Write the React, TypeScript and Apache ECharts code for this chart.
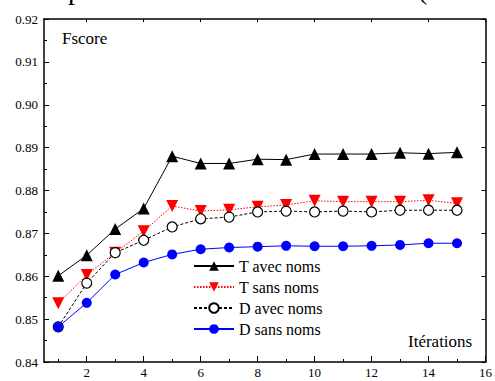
import React, { useEffect, useRef } from "react";
import * as echarts from "echarts";

const iterations = [1, 2, 3, 4, 5, 6, 7, 8, 9, 10, 11, 12, 13, 14, 15];
const tAvecNoms = [0.8601, 0.8649, 0.871, 0.8758, 0.888, 0.8863, 0.8863, 0.8873, 0.8872, 0.8885, 0.8885, 0.8885, 0.8888, 0.8886, 0.8889];
const tSansNoms = [0.8537, 0.8603, 0.8655, 0.8705, 0.8764, 0.8752, 0.8755, 0.8762, 0.8766, 0.8776, 0.8774, 0.8774, 0.8774, 0.8777, 0.877];
const dAvecNoms = [0.8482, 0.8584, 0.8655, 0.8684, 0.8715, 0.8734, 0.8738, 0.875, 0.8752, 0.875, 0.8752, 0.875, 0.8754, 0.8754, 0.8754];
const dSansNoms = [0.8482, 0.8538, 0.8604, 0.8632, 0.8651, 0.8663, 0.8667, 0.8669, 0.8671, 0.867, 0.867, 0.8671, 0.8673, 0.8677, 0.8677];
const xLabelValues = [2, 4, 6, 8, 10, 12, 14, 16];
const xMinorTicks = [1, 3, 5, 7, 9, 11, 13, 15];
const seriesNames = ["T avec noms", "T sans noms", "D avec noms", "D sans noms"];

const FONT = "Liberation Serif";

export default function App() {
  const ref = useRef<HTMLDivElement>(null);
  useEffect(() => {
    if (!ref.current) return;
    const chart = echarts.init(ref.current, null, { renderer: "svg" });
    const pair = (arr: number[]) => iterations.map((x, i) => [x, arr[i]]);
    const baseX = {
      type: "value" as const,
      min: 0.5,
      max: 16,
      gridIndex: 0,
      splitLine: { show: false },
    };
    chart.setOption({
      animation: false,
      backgroundColor: "#ffffff",
      textStyle: { fontFamily: FONT },
      grid: { left: 44, right: 6, top: 19, bottom: 19, containLabel: false },
      graphic: [
        { type: "text", left: 62, top: 30, style: { text: "Fscore", fontFamily: FONT, fontSize: 17, fill: "#000" } },
        { type: "text", left: 408, top: 333, style: { text: "Itérations", fontFamily: FONT, fontSize: 17, fill: "#000" } },
        { type: "text", x: 68, y: -25, style: { text: "p", fontFamily: FONT, fontSize: 28, fill: "#000" } },
        { type: "text", x: 418, y: -25, style: { text: "(", fontFamily: FONT, fontSize: 28, fill: "#000" } },
      ],
      legend: {
        orient: "vertical",
        left: 193,
        top: 258,
        padding: 0,
        itemWidth: 40,
        itemHeight: 12,
        itemGap: 5,
        data: seriesNames,
        textStyle: { fontFamily: FONT, fontSize: 16, color: "#000" },
      },
      xAxis: [
        {
          ...baseX,
          position: "bottom",
          axisLine: { show: true, onZero: false, lineStyle: { color: "#000", width: 1.5 } },
          axisTick: { show: true, inside: true, length: 6, customValues: xLabelValues, lineStyle: { color: "#000" } },
          axisLabel: { show: true, customValues: xLabelValues, fontFamily: FONT, fontSize: 13, color: "#000", margin: 4 },
        },
        {
          ...baseX,
          position: "bottom",
          axisLine: { show: false, onZero: false },
          axisTick: { show: true, inside: true, length: 3, customValues: xMinorTicks, lineStyle: { color: "#000" } },
          axisLabel: { show: false },
        },
        {
          ...baseX,
          position: "top",
          axisLine: { show: true, onZero: false, lineStyle: { color: "#000", width: 1.5 } },
          axisTick: { show: true, inside: true, length: 3, customValues: xLabelValues, lineStyle: { color: "#000" } },
          axisLabel: { show: false },
        },
      ],
      yAxis: [
        {
          type: "value",
          min: 0.84,
          max: 0.92,
          interval: 0.01,
          position: "left",
          splitLine: { show: false },
          axisLine: { show: true, onZero: false, lineStyle: { color: "#000", width: 1.5 } },
          axisTick: { show: true, inside: true, length: 5, lineStyle: { color: "#000" } },
          minorTick: { show: true, splitNumber: 2, length: 3, lineStyle: { color: "#000" } },
          axisLabel: {
            fontFamily: FONT,
            fontSize: 13,
            color: "#000",
            margin: 6,
            formatter: (v: number) => v.toFixed(2),
          },
        },
        {
          type: "value",
          min: 0.84,
          max: 0.92,
          interval: 0.01,
          position: "right",
          splitLine: { show: false },
          axisLine: { show: true, onZero: false, lineStyle: { color: "#000", width: 1.5 } },
          axisTick: { show: true, inside: true, length: 4, lineStyle: { color: "#000" } },
          axisLabel: { show: false },
        },
      ],
      series: [
        {
          name: seriesNames[0],
          type: "line",
          data: pair(tAvecNoms),
          symbol: "triangle",
          symbolSize: 12,
          itemStyle: { color: "#000" },
          lineStyle: { color: "#000", width: 1, type: "solid" },
        },
        {
          name: seriesNames[1],
          type: "line",
          data: pair(tSansNoms),
          symbol: "triangle",
          symbolRotate: 180,
          symbolSize: 12,
          itemStyle: { color: "#ff0000" },
          lineStyle: { color: "#ff0000", width: 1, type: [1.5, 1.5] },
        },
        {
          name: seriesNames[2],
          type: "line",
          data: pair(dAvecNoms),
          symbol: "circle",
          symbolSize: 10,
          itemStyle: { color: "#ffffff", borderColor: "#000", borderWidth: 1.2 },
          lineStyle: { color: "#000", width: 1, type: [3, 2] },
        },
        {
          name: seriesNames[3],
          type: "line",
          data: pair(dSansNoms),
          symbol: "circle",
          symbolSize: 10,
          itemStyle: { color: "#0000ff" },
          lineStyle: { color: "#0000ff", width: 1, type: "solid" },
        },
      ],
    });
    return () => chart.dispose();
  }, []);
  return (
    <div
      ref={ref}
      style={{ position: "fixed", left: 0, top: 0, width: 495, height: 381, background: "#fff" }}
    />
  );
}
